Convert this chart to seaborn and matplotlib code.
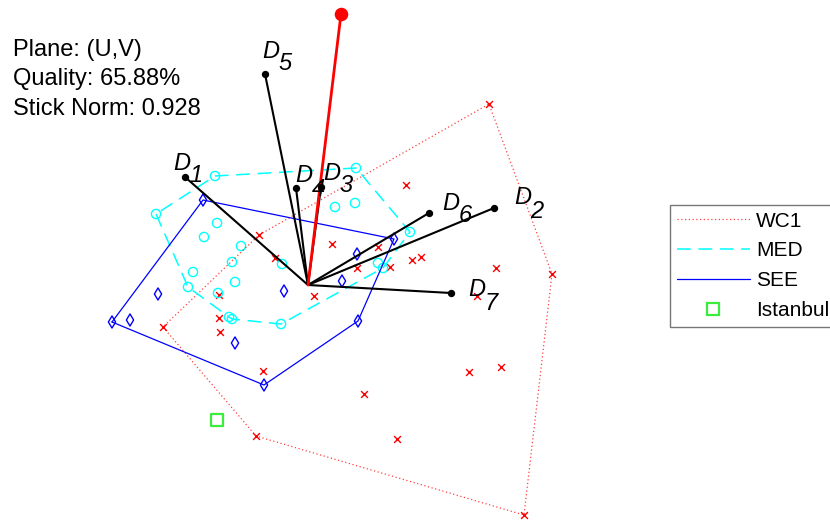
import numpy as np
import matplotlib
matplotlib.use('Agg')
import matplotlib.pyplot as plt
import seaborn as sns
from matplotlib.lines import Line2D

# biplot coordinates in the (U,V) plane
wc1_u = [1.81, 2.44, 2.16, -0.52, -1.45, -0.49, 0.98, 0.24, 0.70, 1.04, 1.13, 0.49, 0.82,
         -0.33, 0.06, -0.89, -0.89, -0.88, -0.45, 0.56, 1.88, 1.69, 1.61, 1.93, 0.89]
wc1_v = [1.81, 0.11, -2.30, -1.51, -0.42, 0.50, 1.00, 0.41, 0.38, 0.25, 0.28, 0.17, 0.18,
         0.27, -0.11, -0.10, -0.33, -0.47, -0.86, -1.09, 0.17, -0.11, -0.87, -0.82, -1.54]

med_u = [-1.52, -0.93, 0.48, 1.02, 0.75, 0.70, -0.27, -0.79, -0.76, -1.20, 0.27, 0.47,
         -0.91, -1.04, -0.67, -0.76, -0.26, -1.15, -0.73, -0.90]
med_v = [0.71, 1.09, 1.17, 0.53, 0.17, 0.22, -0.39, -0.32, -0.34, -0.02, 0.78, 0.82,
         0.62, 0.48, 0.39, 0.23, 0.21, 0.13, 0.03, -0.08]

see_u = [-1.05, 0.86, 0.50, -0.44, -1.96, 0.49, 0.34, -0.24, -1.50, -1.78, -0.73]
see_v = [0.85, 0.46, -0.36, -1.00, -0.37, 0.31, 0.04, -0.06, -0.09, -0.35, -0.58]

ist_u = [-0.91]
ist_v = [-1.35]

stick_names = ['1', '2', '3', '4', '5', '6', '7']
stick_u = [-1.23, 1.86, 0.13, -0.12, -0.43, 1.21, 1.43]
stick_v = [1.08, 0.77, 0.98, 0.97, 2.11, 0.72, -0.08]
red_u, red_v = 0.33, 2.71

info = ['Plane: (U,V)', 'Quality: 65.88%', 'Stick Norm: 0.928']

# label offsets (pixels) of each "D" from its stick end
label_off = [(-3, 14), (29, 10), (11, 14), (8, 12), (6, 23), (22, 10), (26, 3)]


def hull(u, v):
    pts = sorted(set(zip(u, v)))

    def cross(o, a, b):
        return (a[0] - o[0]) * (b[1] - o[1]) - (a[1] - o[1]) * (b[0] - o[0])

    lower, upper = [], []
    for p in pts:
        while len(lower) >= 2 and cross(lower[-2], lower[-1], p) <= 0:
            lower.pop()
        lower.append(p)
    for p in reversed(pts):
        while len(upper) >= 2 and cross(upper[-2], upper[-1], p) <= 0:
            upper.pop()
        upper.append(p)
    h = lower[:-1] + upper[:-1]
    h.append(h[0])
    return np.array(h)


def hollow(col, color):
    col.set_facecolor('none')
    col.set_edgecolor(color)


sns.set_style('white')
plt.rcParams['font.family'] = ['Liberation Sans', 'DejaVu Sans']
plt.rcParams['text.color'] = 'black'

fig = plt.figure(figsize=(8.3, 5.2), dpi=100)
ax = fig.add_axes([0, 0, 1, 1])
ax.set_xlim(-3.08, 5.22)
ax.set_ylim(-2.35, 2.85)
ax.axis('off')

sns.scatterplot(x=wc1_u, y=wc1_v, marker='x', color='red', s=24, linewidth=1.0, ax=ax, legend=False)
sns.scatterplot(x=med_u, y=med_v, marker='o', color='cyan', s=44, linewidth=1.0, ax=ax, legend=False)
hollow(ax.collections[-1], 'cyan')
sns.scatterplot(x=see_u, y=see_v, marker='d', color='blue', s=38, linewidth=1.0, ax=ax, legend=False)
hollow(ax.collections[-1], 'blue')
sns.scatterplot(x=ist_u, y=ist_v, marker='s', color='#3bec3b', s=70, linewidth=1.6, ax=ax, legend=False)
hollow(ax.collections[-1], '#3bec3b')

h = hull(wc1_u, wc1_v)
ax.plot(h[:, 0], h[:, 1], color='red', lw=0.9, ls=(0, (1, 2)), alpha=0.75)
h = hull(med_u, med_v)
ax.plot(h[:, 0], h[:, 1], color='cyan', lw=1.1, ls=(0, (9, 5)))
h = hull(see_u, see_v)
ax.plot(h[:, 0], h[:, 1], color='blue', lw=0.9)

for u, v in zip(stick_u, stick_v):
    ax.plot([0, u], [0, v], color='black', lw=1.5, zorder=3)
ax.plot([0, red_u], [0, red_v], color='red', lw=2, zorder=3)
sns.scatterplot(x=stick_u, y=stick_v, color='black', s=28, linewidth=0, ax=ax, legend=False, zorder=4)
sns.scatterplot(x=[red_u], y=[red_v], color='red', s=95, linewidth=0, ax=ax, legend=False, zorder=4)

for name, u, v, (dx, dy) in zip(stick_names, stick_u, stick_v, label_off):
    ax.annotate('D', (u, v), xytext=(dx, dy), textcoords='offset pixels',
                fontsize=17, style='italic', ha='center', va='center', zorder=5)
    ax.annotate(name, (u, v), xytext=(dx + 14, dy - 13), textcoords='offset pixels',
                fontsize=17, style='italic', ha='center', va='center', zorder=5)

for i, t in enumerate(info):
    fig.text(13 / 830, 1 - (50 + 29.5 * i) / 520, t, fontsize=17, ha='left', va='center')

handles = [
    Line2D([], [], color='red', lw=0.9, ls=(0, (1, 2)), alpha=0.75),
    Line2D([], [], color='cyan', lw=1.1, ls=(0, (9, 5))),
    Line2D([], [], color='blue', lw=0.9),
    Line2D([], [], color='#3bec3b', marker='s', mfc='none', ms=8, mew=1.6, ls='none'),
]
leg = ax.legend(handles, ['WC1', 'MED', 'SEE', 'Istanbul'], loc='upper left',
                bbox_to_anchor=(670 / 830, 1 - 205 / 520), bbox_transform=fig.transFigure,
                fontsize=15, frameon=True, fancybox=False, framealpha=1,
                handlelength=3.5, handletextpad=0.3, borderpad=0.32, labelspacing=0.52,
                borderaxespad=0)
leg.get_frame().set_edgecolor('#777777')
leg.get_frame().set_linewidth(1.0)

fig.savefig('out.png', dpi=100)
